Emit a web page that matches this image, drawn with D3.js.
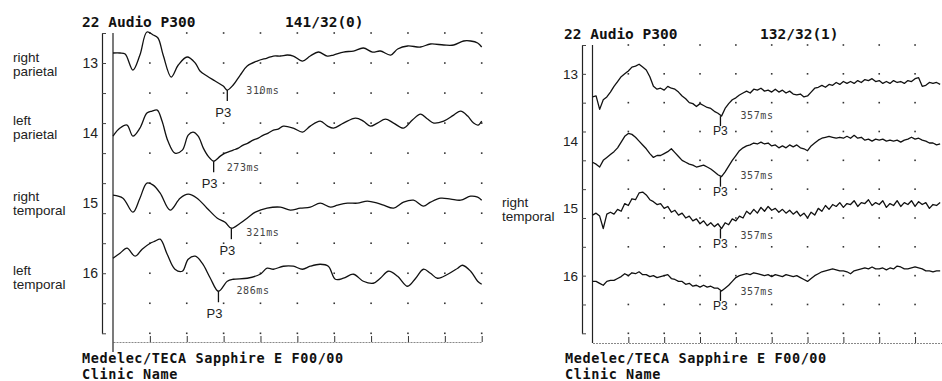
<!DOCTYPE html>
<html><head><meta charset="utf-8">
<script src="https://cdn.jsdelivr.net/npm/d3@7"></script>
<style>
html,body{margin:0;padding:0;background:#fff;}
svg{display:block;}
</style></head><body>
<svg id="c" width="942" height="381"></svg>
<script>
// ---------------- DATA ----------------
const channels = ["13", "14", "15", "16"];
const leftNames = [["right", "parietal"], ["left", "parietal"], ["right", "temporal"], ["left", "temporal"]];
const rightNames = [null, null, ["right", "temporal"], null];
const titleText = "22 Audio P300";
const leftCount = "141/32(0)";
const rightCount = "132/32(1)";
const footerLines = ["Medelec/TECA Sapphire E F00/00", "Clinic Name"];
const peakLabel = "P3";
const leftLatencies = [310, 273, 321, 286];   // ms
const rightLatencies = [357, 357, 357, 357];  // ms
const timeTicks = [100, 200, 300, 400, 500, 600, 700, 800, 900, 1000];
const gridRows = [0, 1, 2, 3, 4, 5, 6, 7, 8, 9, 10];

// left recording, [ms, amplitude] pairs (amplitude: 30 units per grid division)
const left13 = [[0,10],[19,10],[33,9],[54,-7],[73,8],[92,31],[109,28],[122,25],[136,8],[158,-14],[177,-2],[201,6],[223,0],[236,-8],[255,-13],[277,-18],[299,-23],[310,-27],[326,-22],[345,-12],[364,-3],[391,2],[418,5],[435,7],[454,7],[473,8],[489,7],[514,2],[535,7],[557,11],[581,7],[598,8],[625,11],[652,12],[679,15],[704,11],[725,12],[753,8],[772,14],[799,17],[834,16],[861,19],[897,18],[924,18],[951,22],[970,22],[989,20],[1000,16]];
const left14 = [[0,-3],[19,5],[38,8],[54,-3],[73,5],[92,20],[106,22],[120,23],[133,12],[149,-8],[168,-20],[188,-17],[204,-2],[217,1],[231,-3],[245,-15],[258,-23],[273,-28],[291,-23],[304,-20],[326,-17],[340,-15],[353,-12],[366,-10],[380,-7],[394,-5],[408,-2],[421,0],[435,3],[448,4],[462,7],[489,5],[514,1],[535,7],[562,12],[582,7],[598,5],[625,10],[658,15],[679,12],[698,7],[717,10],[739,14],[761,10],[788,5],[812,13],[834,19],[853,14],[870,10],[897,12],[924,18],[943,22],[962,17],[978,10],[990,8],[1000,12]];
const left15 = [[0,8],[27,5],[54,-9],[73,5],[92,20],[109,18],[128,10],[155,-7],[182,5],[204,9],[228,5],[255,-5],[283,-15],[304,-19],[321,-25],[345,-20],[367,-14],[386,-9],[418,-5],[454,-4],[481,-7],[508,-5],[535,-4],[562,0],[590,-4],[609,-2],[636,0],[663,0],[690,2],[717,0],[734,-2],[761,-5],[788,1],[815,3],[842,-3],[861,1],[889,5],[916,4],[943,3],[970,7],[989,6],[1000,3]];
const left16 = [[0,15],[19,20],[38,25],[60,17],[79,24],[101,30],[114,32],[128,34],[147,19],[168,4],[188,2],[204,14],[223,17],[242,10],[264,-5],[286,-18],[310,-8],[326,-6],[364,-5],[399,-1],[418,5],[435,4],[462,7],[489,7],[514,4],[535,7],[562,9],[584,7],[603,-6],[625,-5],[652,-1],[679,-8],[706,-10],[725,-5],[747,2],[772,-3],[799,-13],[821,-5],[842,4],[861,0],[880,-5],[908,-1],[935,5],[948,8],[970,2],[989,-8],[1000,-11]];

// right recording, one sample every 10 ms from 0 ms
const rightStepMs = 10;
const right13 = [-24,-23,-37,-27,-24,-19,-13,-8,-3,0, 3,7,8,10,7,4,-3,-13,-16,-15, -17,-13,-15,-16,-19,-23,-26,-30,-31,-34, -31,-33,-35,-36,-39,-41,-44,-36,-31,-27, -25,-22,-20,-18,-20,-16,-17,-15,-18,-17, -19,-16,-19,-17,-20,-18,-21,-22,-21,-24, -23,-19,-15,-14,-12,-14,-11,-12,-9,-11, -8,-10,-8,-10,-7,-9,-6,-7,-5,-8, -7,-10,-8,-10,-7,-9,-8,-10,-7,-8, -5,-4,-13,-12,-9,-10,-9,-11];
const right14 = [-22,-24,-27,-20,-17,-14,-11,-7,-1,5, 8,7,4,0,-4,-8,-13,-17,-15,-15, -13,-11,-8,-12,-16,-20,-22,-24,-25,-27, -26,-25,-27,-29,-32,-35,-37,-32,-26,-20, -15,-10,-7,-5,-4,-2,-3,-1,-3,-2, -5,-4,-7,-5,-7,-4,-6,-4,-7,-8, -10,-5,-2,1,3,4,5,4,3,4, 3,5,3,6,3,4,1,2,0,2, 1,2,0,1,0,1,-1,1,2,4, 2,3,1,0,-2,-2,-4,-3];
const right15 = [-7,-5,-8,-21,-6,-4,-6,-1,-3,5, 3,10,9,16,17,14,9,7,4,5, 0,2,-4,-2,-7,-5,-10,-8,-13,-11, -16,-13,-18,-15,-19,-16,-21,-15,-17,-11, -13,-8,-10,-3,-6,-1,-5,1,-3,2, -2,0,-4,-1,-5,-2,-6,-3,-8,-5, -10,-4,-7,0,-3,3,-1,4,2,6, 1,5,4,8,2,6,5,9,3,6, 4,8,1,5,3,8,2,6,4,8, 2,7,4,6,0,4,3,6];
const right16 = [-6,-6,-8,-10,-6,-5,-5,-3,-1,2, 0,3,2,4,1,1,-1,0,-2,-1, 0,1,-3,-4,-6,-6,-9,-8,-11,-10, -12,-10,-12,-11,-13,-13,-16,-13,-10,-6, -2,0,1,2,1,3,2,1,0,1, -1,1,0,-1,1,0,-1,0,-2,-4, -6,-3,0,2,4,5,6,7,6,5, 5,4,2,5,6,7,8,7,9,7, 7,8,6,8,7,10,9,7,7,8, 9,8,7,5,5,4,5,5];

// ---------------- LAYOUT ----------------
const MONO = "'DejaVu Sans Mono', monospace";
const SANS = "'Liberation Sans', Arial, sans-serif";
const uvPerDiv = 30;

const toPairs = arr => arr.map((v, i) => [i * rightStepMs, v]);

const panels = [
  { x0: 113, x1: 481.7, rowTop: 33, rowH: 30.03, axisX: 102, lineBottom: 352, bottomY: 342,
    titleX: 82, titleY: 27, countX: 285, numEndX: 98, numSize: 14, nameX: 13, nameDy: [0, -7, -1, 3],
    footX: 82, series: [left13, left14, left15, left16], lat: leftLatencies, names: leftNames, count: leftCount,
    p3Size: 13, p3Dy: 27, p3Dx: -4, tickLen: 11, msDx: [19, 13, 15, 18], msDy: [4, 10, 8, 3],
    curve: d3.curveCatmullRom.alpha(0.5) },
  { x0: 592.5, x1: 950.9, rowTop: 45, rowH: 28.83, axisX: 582, lineBottom: 343, bottomY: 343,
    titleX: 564, titleY: 39, countX: 760, numEndX: 578, numSize: 13.5, nameX: 502, nameDy: [0, 0, 0, 0],
    footX: 565, series: [right13, right14, right15, right16].map(toPairs), lat: rightLatencies, names: rightNames, count: rightCount,
    p3Size: 12, p3Dy: 19, p3Dx: 0, tickLen: 10, msDx: [20, 20, 20, 20], msDy: [3, 2, 10, 4],
    curve: d3.curveLinear }
];

// ---------------- DRAW ----------------
const svg = d3.select("#c");
svg.append("rect").attr("width", 942).attr("height", 381).attr("fill", "#fff");

panels.forEach(p => {
  const g = svg.append("g");
  const x = d3.scaleLinear().domain([0, 1000]).range([p.x0, p.x1]);
  const row = d3.scaleLinear().domain([0, 10]).range([p.rowTop, p.rowTop + 10 * p.rowH]);
  const amp = d3.scaleLinear().domain([0, uvPerDiv]).range([0, p.rowH]);
  const baseY = i => row(1 + i * 7 / 3);

  // grid dots
  const dots = [];
  timeTicks.forEach(t => gridRows.forEach(r => dots.push([t, r])));
  g.append("g").selectAll("rect").data(dots).join("rect")
    .attr("x", d => x(d[0]) - 0.8).attr("y", d => row(d[1]) - 0.8)
    .attr("width", 1.6).attr("height", 1.6).attr("fill", "#333");

  // left calibration axis
  const ya = g.append("g").attr("transform", `translate(${p.axisX},0)`)
    .call(d3.axisRight(row).tickValues(gridRows).tickSize(4).tickSizeOuter(0).tickFormat(""));
  ya.select(".domain").attr("stroke", "#222").attr("stroke-width", 1.2);
  ya.selectAll(".tick line").attr("stroke", "#444");

  // bottom time axis
  const xa = g.append("g").attr("transform", `translate(0,${p.bottomY})`)
    .call(d3.axisTop(x).tickValues(timeTicks).tickSize(6).tickSizeOuter(0).tickFormat(""));
  xa.select(".domain").attr("stroke", "#888").attr("stroke-width", 1).attr("stroke-dasharray", "2,1");
  xa.selectAll(".tick line").attr("stroke", "#333");

  // stimulus line at 0 ms
  g.append("line").attr("x1", x(0)).attr("x2", x(0)).attr("y1", p.rowTop).attr("y2", p.lineBottom)
    .attr("stroke", "#222").attr("stroke-width", 1.2);

  // titles
  g.append("text").attr("x", p.titleX).attr("y", p.titleY).text(titleText)
    .attr("font-family", MONO).attr("font-size", 14.5).attr("font-weight", "bold").attr("fill", "#111");
  g.append("text").attr("x", p.countX).attr("y", p.titleY).text(p.count)
    .attr("font-family", MONO).attr("font-size", 14.5).attr("font-weight", "bold").attr("fill", "#111");

  // footer
  footerLines.forEach((s, i) => {
    g.append("text").attr("x", p.footX).attr("y", 363 + i * 15.5).text(s)
      .attr("font-family", MONO).attr("font-size", 13.5).attr("letter-spacing", 0.6)
      .attr("font-weight", "bold").attr("fill", "#111");
  });

  const line = d3.line().x(d => x(d[0])).curve(p.curve);

  p.series.forEach((s, i) => {
    const yb = baseY(i);
    // channel number
    g.append("text").attr("x", p.numEndX).attr("y", yb + 5).attr("text-anchor", "end")
      .text(channels[i]).attr("font-family", SANS).attr("font-size", p.numSize).attr("fill", "#222");
    // channel name
    if (p.names[i]) {
      p.names[i].forEach((w, j) => {
        g.append("text").attr("x", p.nameX).attr("y", yb - 1 + p.nameDy[i] + j * 14).text(w)
          .attr("font-family", SANS).attr("font-size", 13.5).attr("fill", "#222");
      });
    }
    // trace
    g.append("path").datum(s)
      .attr("d", line.y(d => yb - amp(d[1])))
      .attr("fill", "none").attr("stroke", "#111").attr("stroke-width", 1.3)
      .attr("stroke-linejoin", "round");

    // P3 marker
    const lat = p.lat[i];
    const near = s.filter(d => Math.abs(d[0] - lat) <= 12);
    const vmin = d3.min(near, d => d[1]);
    const mx = x(lat), my = yb - amp(vmin);
    g.append("line").attr("x1", mx).attr("x2", mx).attr("y1", my).attr("y2", my + p.tickLen)
      .attr("stroke", "#111").attr("stroke-width", 1.3);
    g.append("text").attr("x", mx + p.p3Dx).attr("y", my + p.p3Dy).attr("text-anchor", "middle")
      .text(peakLabel).attr("font-family", SANS).attr("font-size", p.p3Size).attr("fill", "#222");
    g.append("text").attr("x", mx + p.msDx[i]).attr("y", my + p.msDy[i])
      .text(lat + "ms").attr("font-family", MONO).attr("font-size", 10).attr("letter-spacing", 0.6)
      .attr("fill", "#444");
  });
});
</script>
</body></html>
